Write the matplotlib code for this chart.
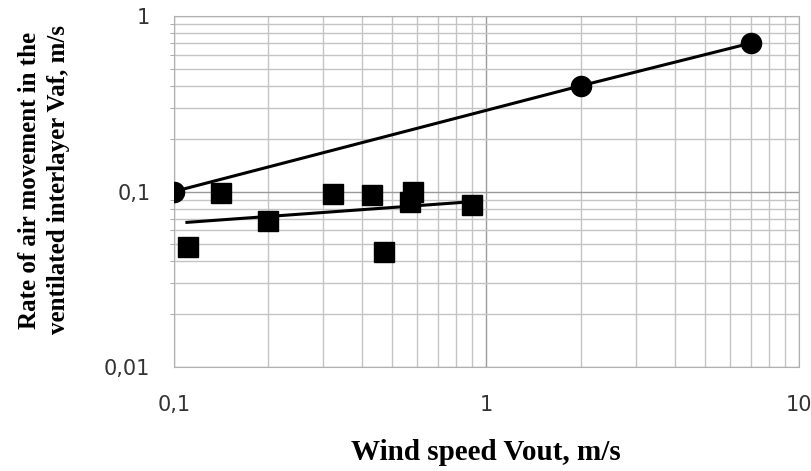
import matplotlib
matplotlib.use('Agg')
from matplotlib import pyplot as plt
from matplotlib.ticker import FixedLocator, LogLocator, NullFormatter

# circles - upper series
circ_x = [0.1, 2.0, 7.0]
circ_y = [0.1, 0.4, 0.7]
# squares - lower series
sq_x = [0.111, 0.141, 0.200, 0.322, 0.430, 0.471, 0.581, 0.571, 0.90]
sq_y = [0.048, 0.098, 0.068, 0.097, 0.0955, 0.0454, 0.0998, 0.0875, 0.0838]
# trend line of squares (read ends)
trend_x = [0.11, 0.9]
trend_y = [0.0667, 0.0875]

xticks = [0.1, 1, 10]
xlabels = ['0,1', '1', '10']
yticks = [0.01, 0.1, 1]
ylabels = ['0,01', '0,1', '1']

fig = plt.figure(figsize=(8.12, 4.71), dpi=100)
ax = fig.add_axes([174/812, 1-367/471, 625/812, 351/471])
ax.set_xscale('log')
ax.set_yscale('log')
ax.set_xlim(0.1, 10)
ax.set_ylim(0.01, 1)

ax.grid(True, which='minor', color='#c4c4c4', lw=1.0)
ax.grid(True, which='major', color='#9a9a9a', lw=1.0)
ax.set_axisbelow(True)
ax.xaxis.set_minor_locator(LogLocator(base=10, subs=range(2, 10)))
ax.yaxis.set_minor_locator(LogLocator(base=10, subs=range(2, 10)))
ax.xaxis.set_minor_formatter(NullFormatter())
ax.yaxis.set_minor_formatter(NullFormatter())
ax.xaxis.set_major_locator(FixedLocator(xticks))
ax.yaxis.set_major_locator(FixedLocator(yticks))
ax.set_xticklabels(xlabels)
ax.set_yticklabels(ylabels)
ax.tick_params(axis='x', which='both', length=0, pad=20, labelsize=15, labelcolor='#333333')
ax.tick_params(axis='y', which='major', length=0, pad=17, labelsize=15, labelcolor='#333333')
ax.tick_params(axis='y', which='minor', length=3, color='#9a9a9a')
for s in ax.spines.values():
    s.set_color('#b0b0b0')

ax.plot(circ_x, circ_y, color='black', lw=2.2, marker='o', ms=14.5, zorder=3)
ax.plot(trend_x, trend_y, color='black', lw=2.2, zorder=3)
ax.plot(sq_x, sq_y, ls='none', color='black', marker='s', ms=14, zorder=4)

fig.text(486/812, 1 - 452/471, 'Wind speed Vout, m/s',
         ha='center', va='center', fontsize=21, fontweight='bold',
         family='Liberation Serif')
fig.text(44/812, 1 - 180/471, 'Rate of air movement in the\nventilated interlayer Vaf, m/s',
         ha='center', va='center', rotation=90, fontsize=18, fontweight='bold',
         family='Liberation Serif', multialignment='center', linespacing=1.35)

fig.savefig('out.png', dpi=100)
